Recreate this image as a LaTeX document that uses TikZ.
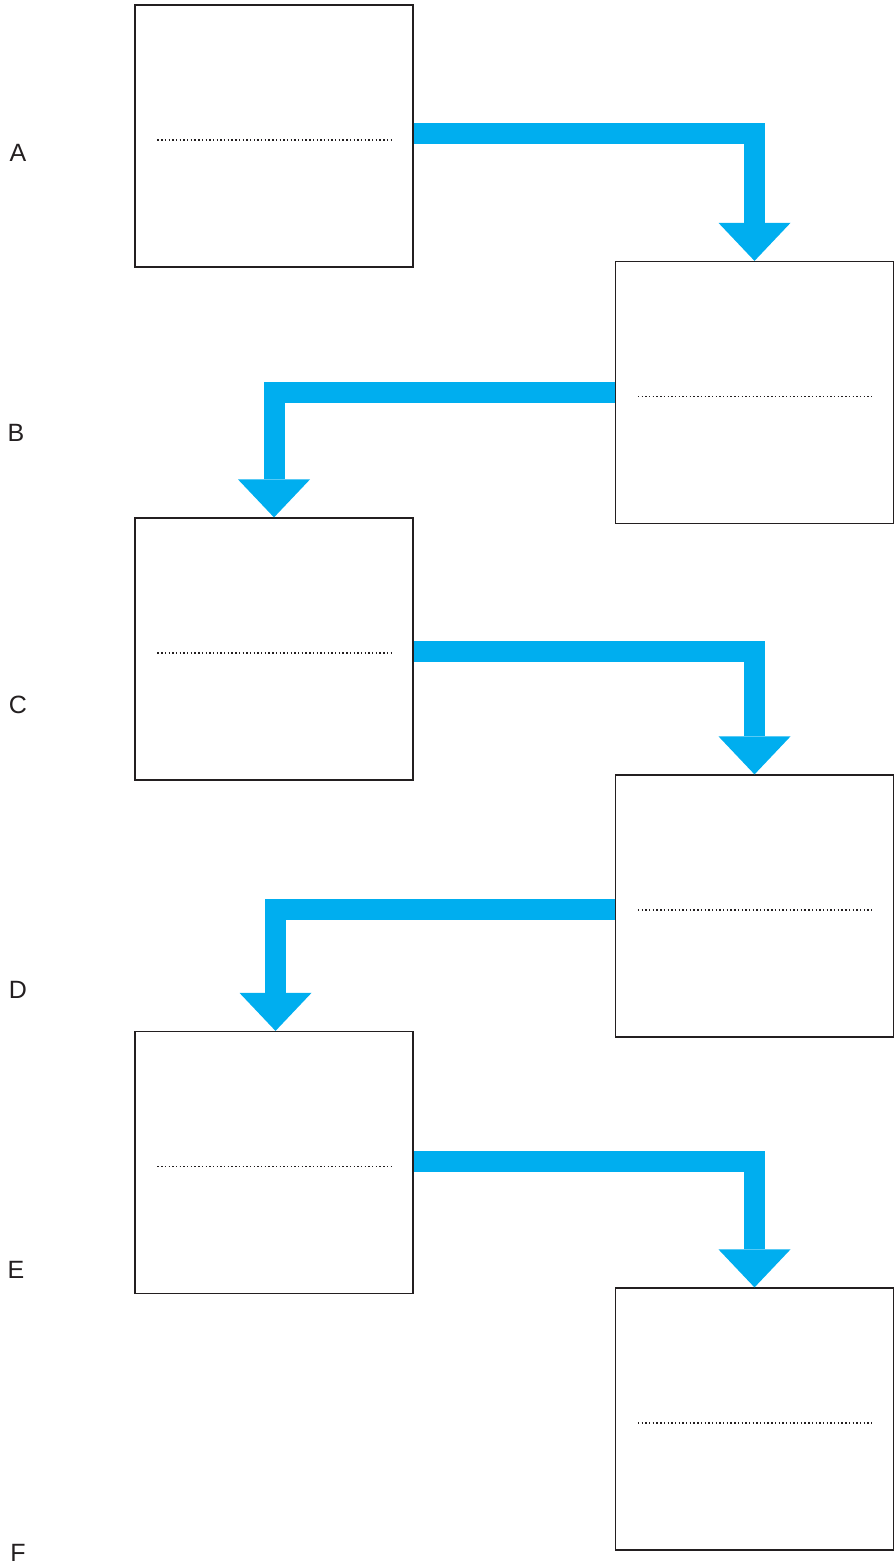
\documentclass[tikz,border=0pt]{standalone}
\usepackage{fontspec}
\setmainfont{Liberation Sans}
\usetikzlibrary{arrows.meta}
\definecolor{flowblue}{HTML}{00AEEF}
\definecolor{inkgray}{HTML}{231F20}

\begin{document}
\begin{tikzpicture}[x=1pt,y=-1pt,
    stage/.style={draw=inkgray,line width=1.2pt,minimum width=278pt,minimum height=262pt,inner sep=0pt},
    dotline/.style={draw=inkgray,line width=1.4pt,dash pattern=on 1.4pt off 2.3pt},
    flow/.style={draw=flowblue,line width=21pt,line join=miter,line cap=butt,
      -{Triangle[width=72pt,length=38pt,line width=0pt]}},
    rowlabel/.style={text=inkgray,font=\fontsize{25}{30}\selectfont,inner sep=0pt}]

    \useasboundingbox (0,0) rectangle (896,1566);

    % the six stages
    \node [stage] (a) at (274,136) {};
    \node [stage] (b) at (754.5,392.5) {};
    \node [stage] (c) at (274,649) {};
    \node [stage] (d) at (754.5,906) {};
    \node [stage] (e) at (274,1162.5) {};
    \node [stage] (f) at (754.5,1419) {};

    \foreach \s in {a,b,c,d,e,f}
      \draw [dotline] ([xshift=23pt,yshift=-4pt]\s.west) -- ([xshift=-23pt,yshift=-4pt]\s.east);

    % row letters
    \node [rowlabel] (la) at (18,153) {A};
    \node [rowlabel] (lb) at (16,433) {B};
    \node [rowlabel] (lc) at (18,705) {C};
    \node [rowlabel] (ld) at (18,990) {D};
    \node [rowlabel] (le) at (16,1270) {E};
    \node [rowlabel] (lf) at (18,1553) {F};

    % connectors
    \draw [flow] ([yshift=3pt]a.east) -| (b.north);
    \draw [flow] (b.west) -| (c.north);
    \draw [flow] ([yshift=-2pt]c.east) -| (d.north);
    \draw [flow] ([yshift=-3pt]d.west) -| ([xshift=1.5pt]e.north);
    \draw [flow] ([yshift=1.5pt]e.east) -| (f.north);

\end{tikzpicture}
\end{document}
